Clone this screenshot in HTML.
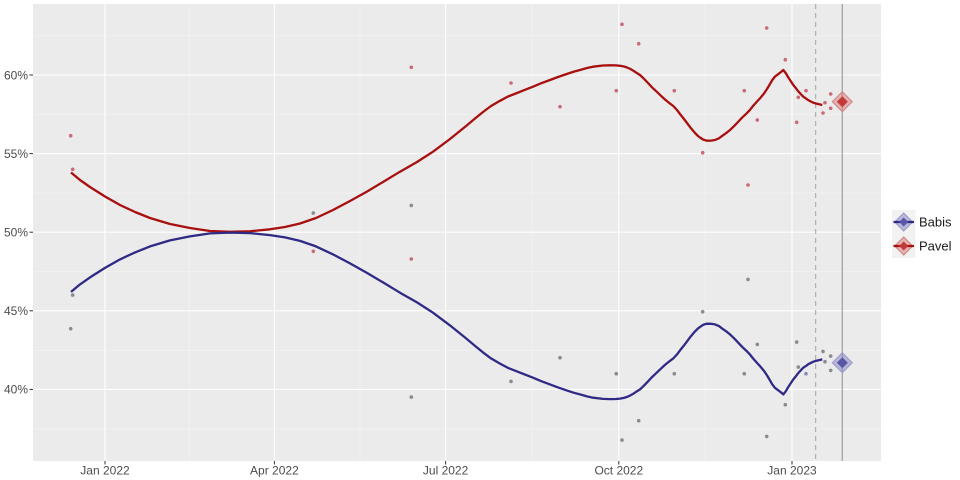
<!DOCTYPE html>
<html><head><meta charset="utf-8"><style>
html,body{margin:0;padding:0;background:#fff;}
svg{display:block;}
text{font-family:"Liberation Sans",sans-serif;}
</style></head><body>
<svg width="960" height="480" viewBox="0 0 960 480" xmlns="http://www.w3.org/2000/svg">
<rect x="0" y="0" width="960" height="480" fill="#fff"/>
<rect x="33" y="4" width="848" height="457" fill="#ebebeb"/>
<!-- minor grid -->
<g stroke="#fff" stroke-width="0.5" opacity="0.55">
<line x1="33" x2="881" y1="35.7" y2="35.7"/>
<line x1="33" x2="881" y1="114.3" y2="114.3"/>
<line x1="33" x2="881" y1="193" y2="193"/>
<line x1="33" x2="881" y1="271.6" y2="271.6"/>
<line x1="33" x2="881" y1="350.3" y2="350.3"/>
<line x1="33" x2="881" y1="429" y2="429"/>
<line y1="4" y2="461" x1="189.7" x2="189.7"/>
<line y1="4" y2="461" x1="360" x2="360"/>
<line y1="4" y2="461" x1="532" x2="532"/>
<line y1="4" y2="461" x1="705" x2="705"/>
</g>
<!-- major grid -->
<g stroke="#fff" stroke-width="1.1">
<line x1="33" x2="881" y1="75" y2="75"/>
<line x1="33" x2="881" y1="153.6" y2="153.6"/>
<line x1="33" x2="881" y1="232.2" y2="232.2"/>
<line x1="33" x2="881" y1="310.8" y2="310.8"/>
<line x1="33" x2="881" y1="389.4" y2="389.4"/>
<line y1="4" y2="461" x1="105" x2="105"/>
<line y1="4" y2="461" x1="274.4" x2="274.4"/>
<line y1="4" y2="461" x1="445.6" x2="445.6"/>
<line y1="4" y2="461" x1="618.8" x2="618.8"/>
<line y1="4" y2="461" x1="792" x2="792"/>
</g>
<!-- vertical markers -->
<line x1="815.7" x2="815.7" y1="4" y2="461" stroke="#a3a3a3" stroke-width="1" stroke-dasharray="5,4"/>
<line x1="842.3" x2="842.3" y1="4" y2="461" stroke="#a3a3a3" stroke-width="1.3"/>
<!-- points Pavel -->
<g fill="#c86a78">
<circle cx="70.7" cy="135.7" r="1.8"/>
<circle cx="72.7" cy="169.3" r="1.8"/>
<circle cx="313.3" cy="251.3" r="1.8"/>
<circle cx="411.3" cy="67.3" r="1.8"/>
<circle cx="411.3" cy="259" r="1.8"/>
<circle cx="511" cy="83" r="1.8"/>
<circle cx="560" cy="106.7" r="1.8"/>
<circle cx="616.3" cy="90.7" r="1.8"/>
<circle cx="622" cy="24.3" r="1.8"/>
<circle cx="638.7" cy="43.7" r="1.8"/>
<circle cx="674.3" cy="90.7" r="1.8"/>
<circle cx="702.7" cy="152.7" r="1.8"/>
<circle cx="744.3" cy="90.7" r="1.8"/>
<circle cx="748" cy="185" r="1.8"/>
<circle cx="757.3" cy="120" r="1.8"/>
<circle cx="766.7" cy="28" r="1.8"/>
<circle cx="785.3" cy="59.7" r="1.8"/>
<circle cx="796.7" cy="122.3" r="1.8"/>
<circle cx="798.3" cy="97.3" r="1.8"/>
<circle cx="806" cy="90.7" r="1.8"/>
<circle cx="823" cy="113" r="1.8"/>
<circle cx="825" cy="102.7" r="1.8"/>
<circle cx="830.7" cy="94" r="1.8"/>
<circle cx="830.7" cy="108.3" r="1.8"/>
</g>
<!-- points Babis -->
<g fill="#8a8a92">
<circle cx="70.7" cy="328.7" r="1.8"/>
<circle cx="72.7" cy="295.1" r="1.8"/>
<circle cx="313.3" cy="213.1" r="1.8"/>
<circle cx="411.3" cy="397.1" r="1.8"/>
<circle cx="411.3" cy="205.4" r="1.8"/>
<circle cx="511" cy="381.4" r="1.8"/>
<circle cx="560" cy="357.7" r="1.8"/>
<circle cx="616.3" cy="373.7" r="1.8"/>
<circle cx="622" cy="440.1" r="1.8"/>
<circle cx="638.7" cy="420.7" r="1.8"/>
<circle cx="674.3" cy="373.7" r="1.8"/>
<circle cx="702.7" cy="311.7" r="1.8"/>
<circle cx="744.3" cy="373.7" r="1.8"/>
<circle cx="748" cy="279.4" r="1.8"/>
<circle cx="757.3" cy="344.4" r="1.8"/>
<circle cx="766.7" cy="436.4" r="1.8"/>
<circle cx="785.3" cy="404.7" r="1.8"/>
<circle cx="796.7" cy="342.1" r="1.8"/>
<circle cx="798.3" cy="367.1" r="1.8"/>
<circle cx="806" cy="373.7" r="1.8" fill="#8a8ab8"/>
<circle cx="823" cy="351.4" r="1.8"/>
<circle cx="825" cy="361.7" r="1.8"/>
<circle cx="830.7" cy="370.4" r="1.8"/>
<circle cx="830.7" cy="356.1" r="1.8"/>
</g>
<!-- Pavel curve -->
<polyline fill="none" stroke="#a80f0f" stroke-width="2.3" stroke-linejoin="round" stroke-linecap="butt"
points="71,172.5 80,180 90,187 105,196.5 120,205 135,212 150,218 170,224 190,228 210,231 230,231.8 250,231.3 270,229.3 285,227 300,223.5 316,218 333,210 350,201 366.7,191.7 383,182 400,171.7 417,162 433,151.7 450,139 466.7,125.5 475,118.5 483,112 491,106 500,100.8 508,96.5 517,93 525,89.8 533,86.7 541,83.3 550,80 558,77 566.7,74 574,71.6 580,70 587,68 593,66.7 603,65.5 610,65.3 616,65.4 620,65.8 624,66.5 627,67.5 630,68.8 633,70.5 636,72.5 640,75 644,78.8 648,83 652,87.3 656.7,91.7 661,95.8 665,99.5 669,102.8 673.3,106 677,110 680,114 684,119 687,123 691,128.3 695,133 698,136 700,137.5 703,139.5 706.7,140.7 711,140.6 715,140 719,138.3 722,136 726,133.2 730,130 734,126.2 738,122 742,117.7 746.7,113.3 750,109.8 753,106 757,101.5 760,98.3 764,93.5 767,89 770,84 772,80.5 775,76.5 778,74.3 781,72 783.3,70 786,73.5 788,77 791,81.5 793.3,85 796,88.3 798,91 801,94.3 803.3,96.7 806,98.5 808,100 811,101.6 813.3,102.7 816,103.5 818,104 822.3,105"/>
<!-- Babis curve (mirror) -->
<polyline fill="none" stroke="#2f2a85" stroke-width="2.3" stroke-linejoin="round" stroke-linecap="butt"
points="71,291.9 80,284.4 90,277.4 105,267.9 120,259.4 135,252.4 150,246.4 170,240.4 190,236.4 210,233.4 230,232.6 250,233.1 270,235.1 285,237.4 300,240.9 316,246.4 333,254.4 350,263.4 366.7,272.7 383,282.4 400,292.7 417,302.4 433,312.7 450,325.4 466.7,338.9 475,345.9 483,352.4 491,358.4 500,363.6 508,367.9 517,371.4 525,374.6 533,377.7 541,381.1 550,384.4 558,387.4 566.7,390.4 574,392.8 580,394.4 587,396.4 593,397.7 603,398.9 610,399.1 616,399 620,398.6 624,397.9 627,396.9 630,395.6 633,393.9 636,391.9 640,389.4 644,385.6 648,381.4 652,377.1 656.7,372.7 661,368.6 665,364.9 669,361.6 673.3,358.4 677,354.4 680,350.4 684,345.4 687,341.4 691,336.1 695,331.4 698,328.4 700,326.9 703,324.9 706.7,323.7 711,323.8 715,324.4 719,326.1 722,328.4 726,331.2 730,334.4 734,338.2 738,342.4 742,346.7 746.7,351.1 750,354.6 753,358.4 757,362.9 760,366.1 764,370.9 767,375.4 770,380.4 772,383.9 775,387.9 778,390.1 781,392.4 783.3,394.4 786,390.9 788,387.4 791,382.9 793.3,379.4 796,376.1 798,373.4 801,370.1 803.3,367.7 806,365.9 808,364.4 811,362.8 813.3,361.7 816,360.9 818,360.4 822.3,359.4"/>
<!-- diamonds -->
<g>
<polygon points="842.3,91.7 852.3,101.7 842.3,111.7 832.3,101.7" fill="#d98080" fill-opacity="0.55" stroke="#d08080" stroke-width="1"/>
<polygon points="842.3,96.2 847.8,101.7 842.3,107.2 836.8,101.7" fill="#c43a3a"/>
<polygon points="842.3,352.7 852.3,362.7 842.3,372.7 832.3,362.7" fill="#8a88c4" fill-opacity="0.55" stroke="#9a98cc" stroke-width="1"/>
<polygon points="842.3,357.2 847.8,362.7 842.3,368.2 836.8,362.7" fill="#5a57a8"/>
</g>
<!-- axis ticks -->
<g stroke="#333" stroke-width="1">
<line x1="29.5" x2="33" y1="75" y2="75"/>
<line x1="29.5" x2="33" y1="153.6" y2="153.6"/>
<line x1="29.5" x2="33" y1="232.2" y2="232.2"/>
<line x1="29.5" x2="33" y1="310.8" y2="310.8"/>
<line x1="29.5" x2="33" y1="389.4" y2="389.4"/>
<line y1="461" y2="464.5" x1="105" x2="105"/>
<line y1="461" y2="464.5" x1="274.4" x2="274.4"/>
<line y1="461" y2="464.5" x1="445.6" x2="445.6"/>
<line y1="461" y2="464.5" x1="618.8" x2="618.8"/>
<line y1="461" y2="464.5" x1="792" x2="792"/>
</g>
<g font-size="12" fill="#4d4d4d" text-anchor="end">
<text x="28" y="79.3">60%</text>
<text x="28" y="157.9">55%</text>
<text x="28" y="236.5">50%</text>
<text x="28" y="315.1">45%</text>
<text x="28" y="393.7">40%</text>
</g>
<g font-size="12" fill="#4d4d4d" text-anchor="middle">
<text x="105" y="474.5">Jan 2022</text>
<text x="274.4" y="474.5">Apr 2022</text>
<text x="445.6" y="474.5">Jul 2022</text>
<text x="618.8" y="474.5">Oct 2022</text>
<text x="792" y="474.5">Jan 2023</text>
</g>
<!-- legend -->
<rect x="892" y="210" width="23.5" height="24" fill="#f2f2f2"/>
<rect x="892" y="234" width="23.5" height="24" fill="#f2f2f2"/>
<polygon points="903.7,213 912.7,222 903.7,231 894.7,222" fill="#8a88c4" fill-opacity="0.55" stroke="#9a98cc" stroke-width="1"/>
<line x1="893.5" x2="914" y1="222" y2="222" stroke="#2f2a85" stroke-width="2.3"/>
<polygon points="903.7,217.5 908.2,222 903.7,226.5 899.2,222" fill="#5a57a8"/>
<polygon points="903.7,237 912.7,246 903.7,255 894.7,246" fill="#d98080" fill-opacity="0.55" stroke="#d08080" stroke-width="1"/>
<line x1="893.5" x2="914" y1="246" y2="246" stroke="#a80f0f" stroke-width="2.3"/>
<polygon points="903.7,241.5 908.2,246 903.7,250.5 899.2,246" fill="#c43a3a"/>
<g font-size="13" fill="#1a1a1a">
<text x="919" y="226.7">Babis</text>
<text x="919" y="250.7">Pavel</text>
</g>
</svg>
</body></html>
